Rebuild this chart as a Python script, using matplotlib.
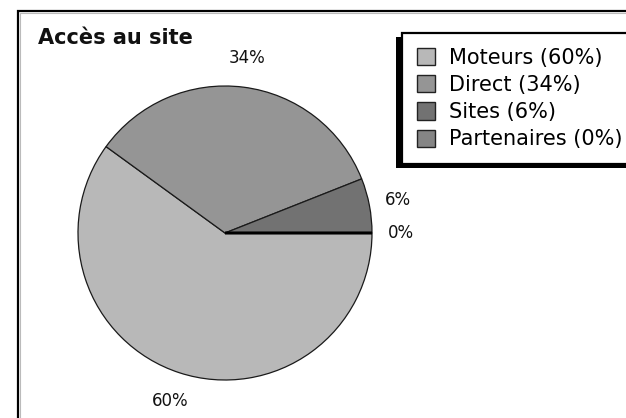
import matplotlib
matplotlib.use('Agg')
import matplotlib.pyplot as plt
from matplotlib.patches import Rectangle, Patch
from matplotlib.lines import Line2D

title = 'Accès au site'
sources = ['Moteurs', 'Direct', 'Sites', 'Partenaires']
shares = [60, 34, 6, 0]
colors = ['#b8b8b8', '#959595', '#727272', '#858585']

W, H = 626, 418
fig = plt.figure(figsize=(W / 100, H / 100), dpi=100)
fig.patch.set_facecolor('white')

# outer frame (only top and left edges visible)
fx, fy = 18 / W, 1 - 11 / H
fig.add_artist(Line2D([fx, fx, 1.0], [0.0, fy, fy], transform=fig.transFigure,
                      color='black', lw=1.6, solid_joinstyle='miter'))
fig.add_artist(Line2D([fx + 2 / W, fx + 2 / W, 1.0], [0.0, fy - 2 / H, fy - 2 / H],
                      transform=fig.transFigure, color='#bbbbbb', lw=0.8))

fig.text(38 / W, 1 - 38 / H, title, fontsize=15, fontweight='bold',
         ha='left', va='center', color='#111111')

# pie axes: center (225, 233) px, radius 147 px
cx, cy, r = 225, 233, 147
lim = 1.03
ax = fig.add_axes([(cx - r * lim) / W, (H - cy - r * lim) / H,
                   2 * r * lim / W, 2 * r * lim / H])
wedges, _, autotexts = ax.pie(shares, colors=colors, startangle=0, counterclock=False,
                              autopct='%.0f%%', pctdistance=1.2,
                              wedgeprops=dict(edgecolor='#1a1a1a', linewidth=0.9),
                              textprops=dict(fontsize=12, color='#111111'))
wedges[3].set_edgecolor('black')
wedges[3].set_linewidth(2.2)
for t in autotexts:
    t.set_clip_on(False)
ax.set_xlim(-lim, lim)
ax.set_ylim(-lim, lim)
ax.set_aspect('equal')
ax.axis('off')

handles = [Patch(facecolor=c, edgecolor='#222222', linewidth=1.0) for c in colors]
labels = [f'{s} ({v}%)' for s, v in zip(sources, shares)]
leg = fig.legend(handles, labels, loc='upper left',
                 bbox_to_anchor=(402 / W, 1 - 33 / H), bbox_transform=fig.transFigure,
                 borderaxespad=0, fontsize=15, frameon=True, fancybox=False,
                 framealpha=1.0, facecolor='white',
                 handlelength=0.9, handleheight=0.9, handletextpad=0.65,
                 labelspacing=0.35, borderpad=0.7)
leg.get_frame().set_edgecolor('black')
leg.get_frame().set_linewidth(1.6)
leg.set_zorder(5)

# drop shadow to the lower left of the legend box
fig.canvas.draw()
bb = leg.get_window_extent()
fig.add_artist(Rectangle((bb.x0 - 6, bb.y0 - 4), bb.width, bb.height,
                         transform=None, facecolor='black', edgecolor='none', zorder=4))

fig.savefig('out.png', dpi=100)
